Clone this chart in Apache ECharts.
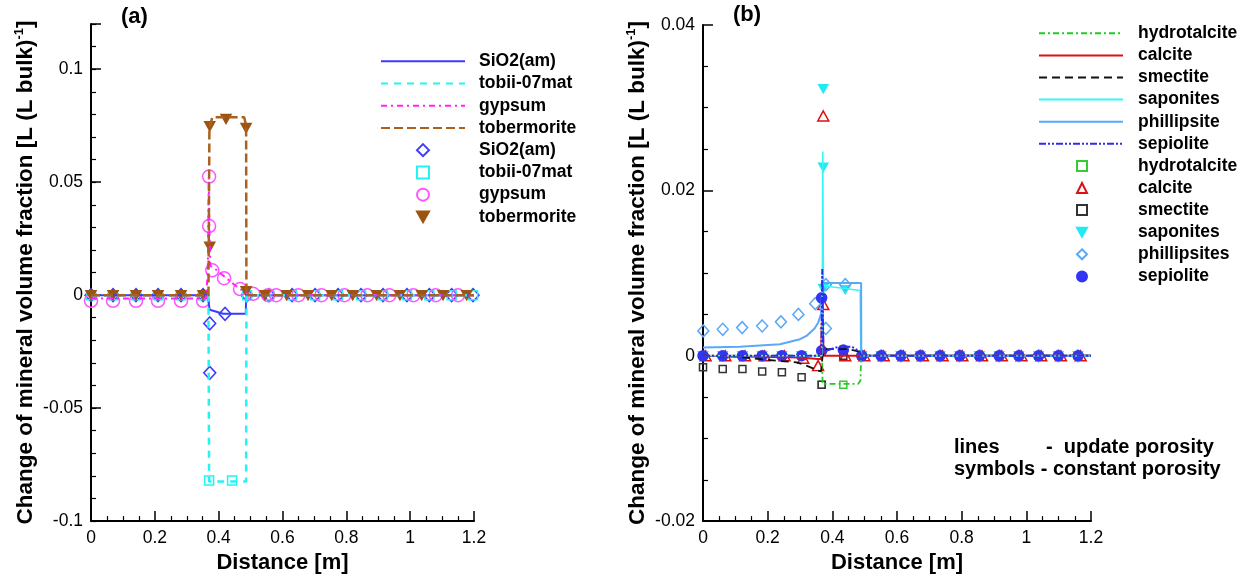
<!DOCTYPE html>
<html>
<head>
<meta charset="utf-8">
<title>Mineral volume fraction change</title>
<script src="https://cdn.jsdelivr.net/npm/echarts@6/dist/echarts.min.js"></script>
<style>
  html, body { margin: 0; padding: 0; background: #fff; }
  #chart { width: 1251px; height: 579px; }
</style>
</head>
<body>
<div id="chart"></div>
<script>
// ---------- Panel (a): cement-side minerals ----------
const sio2LineX = [0, 0.365, 0.372, 0.414, 0.485, 0.486, 1.2];
const sio2LineY = [0, 0, -0.0065, -0.0082, -0.0082, 0, 0];
const tobiiLineX = [0, 0.368, 0.370, 0.486, 0.487, 1.2];
const tobiiLineY = [0, 0, -0.0825, -0.0825, 0, 0];
const gypsumLineX = [0, 0.360, 0.366, 0.369, 0.371, 0.374, 0.39, 0.42, 0.45, 0.48, 0.50, 1.2];
const gypsumLineY = [-0.0015, -0.0015, 0.01, 0.052, 0.03, 0.013, 0.0115, 0.008, 0.0045, 0.0015, 0, 0];
const tobermoriteLineX = [0, 0.368, 0.371, 0.38, 0.48, 0.486, 0.487, 1.2];
const tobermoriteLineY = [0, 0, 0.074, 0.0787, 0.0787, 0.075, 0, 0];

const sio2SymX = [0, 0.069, 0.141, 0.21, 0.282, 0.351, 0.372, 0.372, 0.42, 0.489, 0.558, 0.63, 0.702, 0.774, 0.846, 0.915, 0.99, 1.06, 1.13, 1.197];
const sio2SymY = [0, 0, 0, 0, 0, 0, -0.0125, -0.0344, -0.0083, 0, 0, 0, 0, 0, 0, 0, 0, 0, 0, 0];
const tobiiSymX = [0, 0.069, 0.141, 0.21, 0.282, 0.351, 0.37, 0.442, 0.489, 0.558, 0.63, 0.702, 0.774, 0.846, 0.915, 0.99, 1.06, 1.13, 1.197];
const tobiiSymY = [0, 0, 0, 0, 0, 0, -0.082, -0.082, 0, 0, 0, 0, 0, 0, 0, 0, 0, 0, 0];
const gypsumSymX = [0, 0.069, 0.141, 0.21, 0.282, 0.351, 0.37, 0.37, 0.38, 0.417, 0.467, 0.508, 0.555, 0.58, 0.65, 0.722, 0.794, 0.866, 0.935, 1.01, 1.08, 1.15];
const gypsumSymY = [-0.0025, -0.0025, -0.0025, -0.0025, -0.0025, -0.0025, 0.0525, 0.0306, 0.011, 0.0075, 0.0027, 0.0006, 0, 0, 0, 0, 0, 0, 0, 0, 0, 0];
const tobermoriteSymX = [0, 0.069, 0.141, 0.21, 0.282, 0.351, 0.372, 0.372, 0.423, 0.486, 0.486, 0.545, 0.613, 0.68, 0.754, 0.82, 0.895, 0.968, 1.036, 1.103, 1.177];
const tobermoriteSymY = [0, 0, 0, 0, 0, 0, 0.0214, 0.0748, 0.078, 0.074, 0.0017, 0, 0, 0, 0, 0, 0, 0, 0, 0, 0];

// ---------- Panel (b): clay-side minerals ----------
const hydrotalciteLineX = [0, 0.368, 0.370, 0.480, 0.487, 0.489, 1.2];
const hydrotalciteLineY = [0, 0, -0.0034, -0.0034, -0.003, 0, 0];
const calciteLineX = [0, 0.30, 0.355, 0.365, 0.369, 0.373, 1.2];
const calciteLineY = [0, -0.0002, -0.0004, -0.0004, 0.0065, 0, 0];
const smectiteLineX = [0, 0.10, 0.228, 0.29, 0.32, 0.356, 0.365, 0.370, 0.38, 0.45, 0.485, 0.489, 1.2];
const smectiteLineY = [0, -0.0001, -0.0006, -0.0008, -0.0012, -0.0018, -0.0019, 0, 0.0008, 0.0008, 0.0005, 0, 0];
const saponitesLineX = [0, 0.368, 0.3705, 0.3725, 0.383, 0.486, 0.487, 0.488, 1.2];
const saponitesLineY = [0, 0, 0.0247, 0.0085, 0.0084, 0.0079, 0.0079, 0, 0];
const phillipsiteLineX = [0, 0.114, 0.238, 0.30, 0.32, 0.345, 0.356, 0.365, 0.370, 0.489, 0.4895, 1.2];
const phillipsiteLineY = [0.001, 0.0011, 0.0014, 0.002, 0.0024, 0.0033, 0.004, 0.005, 0.0088, 0.0088, 0, 0];
const sepioliteLineX = [0, 0.366, 0.369, 0.372, 0.38, 0.42, 0.46, 0.485, 0.49, 1.2];
const sepioliteLineY = [0, 0, 0.0105, 0.001, 0.0006, 0.0011, 0.0011, 0.0005, 0, 0];

const hydrotalciteSymX = [0, 0.061, 0.122, 0.183, 0.244, 0.305, 0.367, 0.434, 0.491, 0.551, 0.612, 0.672, 0.733, 0.794, 0.855, 0.916, 0.977, 1.038, 1.099, 1.16];
const hydrotalciteSymY = [0, 0, 0, 0, 0, 0, -0.0035, -0.0035, 0, 0, 0, 0, 0, 0, 0, 0, 0, 0, 0, 0];
const calciteSymX = [0.008, 0.069, 0.13, 0.191, 0.252, 0.31, 0.356, 0.372, 0.372, 0.44, 0.499, 0.559, 0.62, 0.68, 0.741, 0.802, 0.863, 0.924, 0.985, 1.046, 1.107, 1.168];
const calciteSymY = [0, 0, 0, 0, 0, -0.0003, -0.0012, 0.0062, 0.029, 0, 0, 0, 0, 0, 0, 0, 0, 0, 0, 0, 0, 0];
const smectiteSymX = [0, 0.061, 0.122, 0.183, 0.244, 0.305, 0.367, 0.434, 0.491, 0.551, 0.612, 0.672, 0.733, 0.794, 0.855, 0.916, 0.977, 1.038, 1.099, 1.16];
const smectiteSymY = [-0.0014, -0.0016, -0.0016, -0.0019, -0.002, -0.0026, -0.0035, 0, 0, 0, 0, 0, 0, 0, 0, 0, 0, 0, 0, 0];
const saponitesSymX = [0, 0.061, 0.122, 0.183, 0.244, 0.305, 0.372, 0.372, 0.372, 0.44, 0.491, 0.551, 0.612, 0.672, 0.733, 0.794, 0.855, 0.916, 0.977, 1.038, 1.099, 1.16];
const saponitesSymY = [0, 0, 0, 0, 0, 0, 0.0081, 0.0228, 0.0323, 0.008, 0, 0, 0, 0, 0, 0, 0, 0, 0, 0, 0, 0];
const phillipsitesSymX = [0.001, 0.061, 0.121, 0.183, 0.241, 0.295, 0.347, 0.38, 0.38, 0.44, 0.491, 0.551, 0.612, 0.672, 0.733, 0.794, 0.855, 0.916, 0.977, 1.038, 1.099, 1.16];
const phillipsitesSymY = [0.003, 0.0032, 0.0034, 0.0036, 0.0041, 0.005, 0.0063, 0.0033, 0.0086, 0.0086, 0, 0, 0, 0, 0, 0, 0, 0, 0, 0, 0, 0];
const sepioliteSymX = [0, 0.061, 0.122, 0.183, 0.244, 0.305, 0.367, 0.367, 0.434, 0.491, 0.551, 0.612, 0.672, 0.733, 0.794, 0.855, 0.916, 0.977, 1.038, 1.099, 1.16];
const sepioliteSymY = [0, 0, 0, 0, 0, 0, 0.0006, 0.007, 0.0007, 0, 0, 0, 0, 0, 0, 0, 0, 0, 0, 0, 0];

// Axis tick labels
const distanceTicks = ['0', '0.2', '0.4', '0.6', '0.8', '1', '1.2'];
const fractionTicksA = ['-0.1', '-0.05', '0', '0.05', '0.1'];
const fractionTicksB = ['-0.02', '0', '0.02', '0.04'];

const FONT = '"Liberation Sans", Arial, Helvetica, sans-serif';
const CONST_TAG = ' (constant porosity)';
const DOWN_TRIANGLE = 'path://M0,0 L10,0 L5,9 Z';
const pairs = (xs, ys) => xs.map((x, i) => [x, ys[i]]);
const tickText = (list) => (v) => {
  const s = String(+Number(v).toFixed(4));
  return list.includes(s) ? s : '';
};

function distanceAxis(gridIndex) {
  return {
    type: 'value', gridIndex, min: 0, max: 1.2, interval: 0.2,
    axisLine: { show: true, onZero: false, lineStyle: { color: '#000', width: 2 } },
    axisTick: { show: true, inside: true, length: 10, lineStyle: { color: '#000', width: 1.5 } },
    minorTick: { show: true, splitNumber: 4, length: 5, lineStyle: { color: '#000', width: 1.2 } },
    splitLine: { show: false },
    axisLabel: { color: '#000', fontSize: 17.5, fontFamily: FONT, margin: 8, formatter: tickText(distanceTicks) },
    name: 'Distance [m]', nameLocation: 'middle', nameGap: 27,
    nameTextStyle: { color: '#000', fontSize: 22, fontWeight: 'bold', fontFamily: FONT }
  };
}

const yName = '{t|Change of mineral volume fraction [L (L bulk)}{s|-1}{t|]}';
const yNameStyle = {
  color: '#000',
  rich: {
    t: { fontSize: 22.5, fontWeight: 'bold', fontFamily: FONT, color: '#000', lineHeight: 26 },
    s: { fontSize: 13, fontWeight: 'bold', fontFamily: FONT, color: '#000', verticalAlign: 'top', lineHeight: 14 }
  }
};

function fractionAxis(gridIndex, min, max, interval, labels, minorSplit) {
  return {
    type: 'value', gridIndex, min, max, interval, position: 'left',
    axisLine: { show: true, onZero: false, lineStyle: { color: '#000', width: 2 } },
    axisTick: { show: true, inside: true, length: 10, lineStyle: { color: '#000', width: 1.5 } },
    minorTick: { show: minorSplit > 0, splitNumber: minorSplit || 5, length: 5, lineStyle: { color: '#000', width: 1.2 } },
    splitLine: { show: false },
    axisLabel: { color: '#000', fontSize: 17.5, fontFamily: FONT, margin: 8, formatter: tickText(labels) },
    name: yName, nameLocation: 'middle', nameGap: 52, nameTextStyle: yNameStyle
  };
}

function lineSeries(name, xs, ys, color, width, type, xi, yi) {
  return {
    type: 'line', name, xAxisIndex: xi, yAxisIndex: yi,
    data: pairs(xs, ys), symbol: 'none', showSymbol: false,
    lineStyle: { color, width, type }, itemStyle: { color },
    animation: false, silent: true
  };
}

function symbolSeries(name, xs, ys, symbol, size, fill, stroke, xi, yi, rotate) {
  return {
    type: 'scatter', name: name + CONST_TAG, xAxisIndex: xi, yAxisIndex: yi,
    data: pairs(xs, ys), symbol, symbolSize: size, symbolRotate: rotate || 0,
    itemStyle: { color: fill, borderColor: stroke, borderWidth: 1.5, opacity: 1 },
    animation: false, silent: true, clip: false
  };
}

const HOLLOW = 'rgba(255,255,255,0)';

const series = [
  // panel (a) lines
  lineSeries('SiO2(am)', sio2LineX, sio2LineY, '#3b3bff', 2, 'solid', 0, 0),
  lineSeries('tobii-07mat', tobiiLineX, tobiiLineY, '#22f4f4', 2.5, [7, 6], 0, 0),
  lineSeries('gypsum', gypsumLineX, gypsumLineY, '#ff22ff', 2, [6, 4, 2, 4], 0, 0),
  lineSeries('tobermorite', tobermoriteLineX, tobermoriteLineY, '#a8611f', 2.5, [9, 4], 0, 0),
  // panel (a) symbols
  symbolSeries('SiO2(am)', sio2SymX, sio2SymY, 'diamond', [12, 13], HOLLOW, '#3b3bff', 0, 0),
  symbolSeries('tobii-07mat', tobiiSymX, tobiiSymY, 'rect', 9, HOLLOW, '#22f4f4', 0, 0),
  symbolSeries('gypsum', gypsumSymX, gypsumSymY, 'circle', 13, HOLLOW, '#ff55ff', 0, 0),
  symbolSeries('tobermorite', tobermoriteSymX, tobermoriteSymY, 'triangle', [10, 9], '#9c5412', '#9c5412', 0, 0, 180),

  // panel (b) lines
  lineSeries('hydrotalcite', hydrotalciteLineX, hydrotalciteLineY, '#22cc22', 1.8, [6, 3, 2, 3], 1, 2),
  lineSeries('calcite', calciteLineX, calciteLineY, '#dd1111', 2, 'solid', 1, 2),
  lineSeries('smectite', smectiteLineX, smectiteLineY, '#111111', 1.8, [8, 5], 1, 2),
  lineSeries('saponites', saponitesLineX, saponitesLineY, '#33f6f6', 1.5, 'solid', 1, 2),
  lineSeries('phillipsite', phillipsiteLineX, phillipsiteLineY, '#5aa8f8', 2, 'solid', 1, 2),
  lineSeries('sepiolite', sepioliteLineX, sepioliteLineY, '#2c2cf0', 2, [7, 2, 2, 2, 2, 2], 1, 2),
  // panel (b) symbols
  symbolSeries('hydrotalcite', hydrotalciteSymX, hydrotalciteSymY, 'rect', 7, HOLLOW, '#33cc33', 1, 2),
  symbolSeries('calcite', calciteSymX, calciteSymY, 'triangle', [11, 10], HOLLOW, '#dd1111', 1, 2),
  symbolSeries('smectite', smectiteSymX, smectiteSymY, 'rect', 7, HOLLOW, '#333333', 1, 2),
  symbolSeries('saponites', saponitesSymX, saponitesSymY, 'triangle', [9, 8], '#22eaf4', '#22eaf4', 1, 2, 180),
  symbolSeries('phillipsites', phillipsitesSymX, phillipsitesSymY, 'diamond', [11, 12], HOLLOW, '#5aa8f8', 1, 2),
  symbolSeries('sepiolite', sepioliteSymX, sepioliteSymY, 'circle', 10, '#3434f4', '#3434f4', 1, 2)
];

const stripTag = (n) => n.replace(CONST_TAG, '');
const TEXT_H = 18;   // height of one legend text row at this font size
const legendText = (padLeft) => ({
  color: '#000', fontSize: 17.5, fontWeight: 'bold', fontFamily: FONT, padding: [0, 0, 0, padLeft]
});
// line entries show only the stroke sample, no marker
const lineEntry = (n) => ({ name: n, itemStyle: { color: 'rgba(0,0,0,0)', borderColor: 'rgba(0,0,0,0)', borderWidth: 0 } });
const symEntry = (n) => {
  const entry = { name: n + CONST_TAG };
  if (n === 'tobermorite' || n === 'saponites') entry.icon = DOWN_TRIANGLE;
  return entry;
};

const namesA = ['SiO2(am)', 'tobii-07mat', 'gypsum', 'tobermorite'];
const namesB = ['hydrotalcite', 'calcite', 'smectite', 'saponites', 'phillipsite', 'sepiolite'];
const symNamesB = ['hydrotalcite', 'calcite', 'smectite', 'saponites', 'phillipsites', 'sepiolite'];

const ROW_A = 22.24;
const ROW_B = 22.1;
const TOP_A = 52.2;  // first legend row centred near y = 60
const TOP_B = 24.3;  // first legend row centred near y = 32

const option = {
  backgroundColor: '#fff',
  animation: false,
  grid: [
    { left: 91, right: 777, top: 24, bottom: 52, containLabel: false },
    { left: 703, right: 160, top: 25, bottom: 52, containLabel: false }
  ],
  title: [
    { text: '(a)', left: 121, top: 6, padding: 0, textStyle: { color: '#000', fontSize: 22, fontWeight: 'bold', fontFamily: FONT } },
    { text: '(b)', left: 733, top: 4, padding: 0, textStyle: { color: '#000', fontSize: 22, fontWeight: 'bold', fontFamily: FONT } }
  ],
  xAxis: [distanceAxis(0), distanceAxis(1)],
  yAxis: [
    fractionAxis(0, -0.1, 0.12, 0.05, fractionTicksA, 0),
    {
      type: 'value', gridIndex: 0, min: -0.1, max: 0.12, interval: 0.01, position: 'left',
      axisLine: { show: false }, axisLabel: { show: false }, splitLine: { show: false },
      axisTick: { show: true, inside: true, length: 5, lineStyle: { color: '#000', width: 1.2 } }
    },
    fractionAxis(1, -0.02, 0.04, 0.02, fractionTicksB, 4)
  ],
  legend: [
    {
      left: 380, top: TOP_A, orient: 'vertical', padding: 0,
      itemWidth: 84, itemHeight: 12, itemGap: ROW_A - TEXT_H, selectedMode: false,
      data: namesA.map(lineEntry), formatter: stripTag, textStyle: legendText(9)
    },
    {
      left: 416, top: TOP_A + 4 * ROW_A, orient: 'vertical', padding: 0,
      itemWidth: 12, itemHeight: 12, itemGap: ROW_A - TEXT_H, selectedMode: false,
      data: namesA.map(symEntry), formatter: stripTag, textStyle: legendText(45)
    },
    {
      left: 1038, top: TOP_B, orient: 'vertical', padding: 0,
      itemWidth: 84, itemHeight: 10, itemGap: ROW_B - TEXT_H, selectedMode: false,
      data: namesB.map(lineEntry), formatter: stripTag, textStyle: legendText(10)
    },
    {
      left: 1076, top: TOP_B + 6 * ROW_B, orient: 'vertical', padding: 0,
      itemWidth: 10, itemHeight: 10, itemGap: ROW_B - TEXT_H, selectedMode: false,
      data: symNamesB.map(symEntry), formatter: stripTag, textStyle: legendText(46)
    }
  ],
  graphic: [
    { type: 'text', left: 954, top: 437, style: { text: 'lines', fill: '#000', font: 'bold 20px ' + FONT } },
    { type: 'text', left: 1046, top: 437, style: { text: '-  update porosity', fill: '#000', font: 'bold 20px ' + FONT } },
    { type: 'text', left: 954, top: 459, style: { text: 'symbols - constant porosity', fill: '#000', font: 'bold 20px ' + FONT } }
  ],
  series
};

const chart = echarts.init(document.getElementById('chart'), null, { renderer: 'canvas' });
chart.setOption(option);
</script>
</body>
</html>
